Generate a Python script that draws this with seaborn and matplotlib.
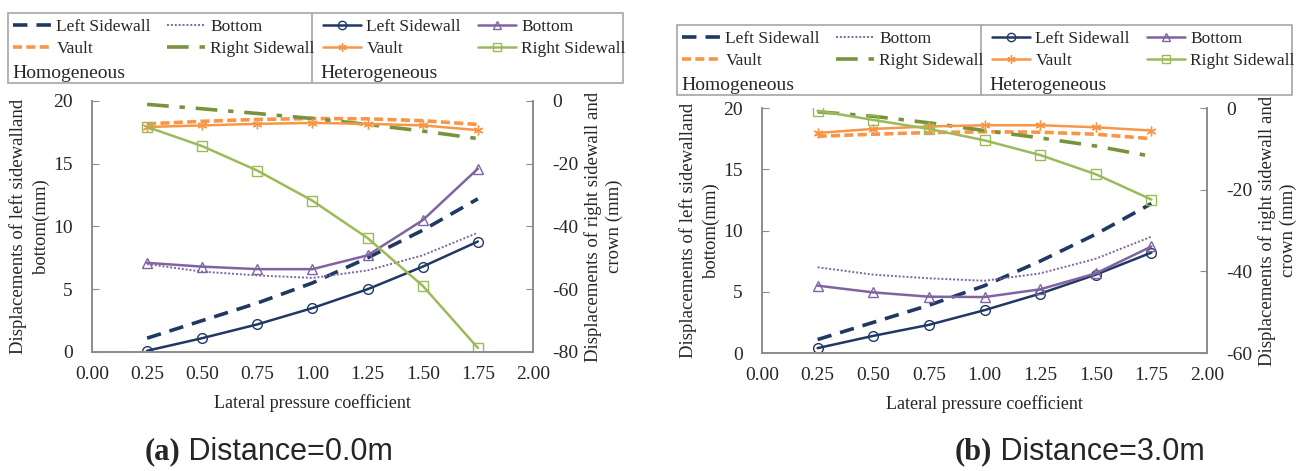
import numpy as np
import pandas as pd
import matplotlib
matplotlib.use("Agg")
import matplotlib.pyplot as plt
import seaborn as sns
from matplotlib.lines import Line2D
from matplotlib.patches import Rectangle

# lateral pressure coefficient (x values for every series)
coef = [0.25, 0.50, 0.75, 1.00, 1.25, 1.50, 1.75]

# ---- (a) Distance = 0.0 m ----
a_left_homo = [1.1, 2.5, 3.9, 5.5, 7.5, 9.7, 12.2]
a_bottom_homo = [7.0, 6.4, 6.1, 5.9, 6.5, 7.7, 9.5]
a_vault_homo = [-7.3, -6.5, -5.9, -5.6, -5.7, -6.3, -7.5]
a_right_homo = [-1.1, -2.5, -4.0, -5.6, -7.5, -9.6, -12.0]
a_left_het = [0.1, 1.1, 2.2, 3.5, 5.0, 6.8, 8.8]
a_bottom_het = [7.1, 6.8, 6.6, 6.6, 7.7, 10.5, 14.6]
a_vault_het = [-8.3, -7.8, -7.3, -7.0, -7.3, -7.8, -9.3]
a_right_het = [-8.3, -14.4, -22.2, -31.8, -43.7, -58.9, -78.7]

# ---- (b) Distance = 3.0 m ----
b_left_homo = [1.1, 2.5, 3.9, 5.5, 7.5, 9.7, 12.2]
b_bottom_homo = [7.0, 6.4, 6.1, 5.9, 6.5, 7.7, 9.5]
b_vault_homo = [-6.9, -6.4, -6.0, -5.8, -5.9, -6.4, -7.5]
b_right_homo = [-0.9, -2.0, -3.6, -5.5, -7.3, -9.3, -11.8]
b_left_het = [0.4, 1.4, 2.3, 3.5, 4.85, 6.4, 8.2]
b_bottom_het = [5.5, 4.95, 4.6, 4.57, 5.2, 6.5, 8.7]
b_vault_het = [-6.1, -5.1, -4.5, -4.2, -4.2, -4.7, -5.5]
b_right_het = [-0.65, -2.9, -5.1, -7.9, -11.5, -16.2, -22.4]

x_ticks = [0.00, 0.25, 0.50, 0.75, 1.00, 1.25, 1.50, 1.75, 2.00]

NAVY = "#1f3864"
PURPLE = "#8064a2"
ORANGE = "#f79646"
GREEN = "#9bbb59"
DKGREEN = "#77933c"
SPINE = "#8c8c8c"

sns.set_style("white")
plt.rcParams["font.family"] = ["Liberation Serif", "DejaVu Serif"]

# line styles for homogeneous (dashed) and heterogeneous (solid + marker)
homo_styles = {
    "Left Sidewall": dict(color=NAVY, lw=2.6, dashes=(4, 2.5)),
    "Bottom": dict(color=PURPLE, lw=1.4, dashes=(1, 1)),
    "Vault": dict(color=ORANGE, lw=2.6, dashes=(2.5, 1.2)),
    "Right Sidewall": dict(color=DKGREEN, lw=2.6, dashes=(6, 3, 1.5, 3)),
}
het_styles = {
    "Left Sidewall": dict(color=NAVY, marker="o"),
    "Bottom": dict(color=PURPLE, marker="^"),
    "Vault": dict(color=ORANGE, marker=(6, 2, 0)),
    "Right Sidewall": dict(color=GREEN, marker="s"),
}


def draw_series(ax, y, style, homo):
    if homo:
        sns.lineplot(x=coef, y=y, ax=ax, color=style["color"], lw=style["lw"],
                     legend=False)
        ax.lines[-1].set_dashes(style["dashes"])
    else:
        sns.lineplot(x=coef, y=y, ax=ax, color=style["color"], lw=1.8,
                     marker=style["marker"], markersize=7, markerfacecolor="none",
                     markeredgecolor=style["color"], markeredgewidth=1.0,
                     legend=False)


def draw_panel(rect, left_vals, right_vals, ymin2, yticks2):
    ax = fig.add_axes(rect)
    ax2 = ax.twinx()
    (lh, bh, lt, bt) = left_vals
    (vh, rh, vt, rt) = right_vals
    draw_series(ax, lh, homo_styles["Left Sidewall"], True)
    draw_series(ax, bh, homo_styles["Bottom"], True)
    draw_series(ax, lt, het_styles["Left Sidewall"], False)
    draw_series(ax, bt, het_styles["Bottom"], False)
    draw_series(ax2, vh, homo_styles["Vault"], True)
    draw_series(ax2, rh, homo_styles["Right Sidewall"], True)
    draw_series(ax2, vt, het_styles["Vault"], False)
    draw_series(ax2, rt, het_styles["Right Sidewall"], False)

    ax.set_xlim(0, 2)
    ax.set_ylim(0, 20)
    ax.set_xticks(x_ticks)
    ax.set_xticklabels([f"{t:.2f}" for t in x_ticks])
    ax.set_yticks([0, 5, 10, 15, 20])
    ax2.set_ylim(ymin2, 0)
    ax2.set_yticks(yticks2)
    ax2.set_yticklabels([str(t) for t in yticks2])  # plain hyphen minus
    for a in (ax, ax2):
        a.tick_params(labelsize=14, length=5, color=SPINE, direction="in", pad=14)
        for side in ("left", "right", "bottom"):
            a.spines[side].set_color(SPINE)
            a.spines[side].set_visible(True)
            a.spines[side].set_linewidth(1.2)
        a.spines["top"].set_visible(False)
    ax.tick_params(axis="x", bottom=False, pad=10)
    ax.tick_params(axis="y", left=True)
    ax2.tick_params(axis="y", right=True)
    ax.set_xlabel("Lateral pressure coefficient", fontsize=13, labelpad=8)
    ax.set_ylabel("Displacements of left sidewalland\nbottom(mm)", fontsize=13.5,
                  labelpad=2, linespacing=1.45)
    ax2.set_ylabel("Displacements of right sidewall and\ncrown (mm)", fontsize=13.5,
                   labelpad=4, linespacing=1.25)
    return ax


def draw_legend(x0, y0):
    W, H = fig.get_size_inches() * fig.dpi
    w, h = 615, 70
    fig.patches.append(Rectangle((x0 / W, 1 - (y0 + h) / H), w / W, h / H,
                                 transform=fig.transFigure, fill=False,
                                 edgecolor="#a6a6a6", lw=1.2))
    xm = x0 + 304
    fig.lines.append(Line2D([xm / W, xm / W], [1 - y0 / H, 1 - (y0 + h) / H],
                            transform=fig.transFigure, color="#a6a6a6", lw=1.2))
    columns = [
        (x0 + 5, ["Left Sidewall", "Vault"], True),
        (x0 + 159, ["Bottom", "Right Sidewall"], True),
        (x0 + 315, ["Left Sidewall", "Vault"], False),
        (x0 + 470, ["Bottom", "Right Sidewall"], False),
    ]
    for xx, names, homo in columns:
        if homo:
            handles = [Line2D([], [], color=homo_styles[n]["color"],
                              lw=homo_styles[n]["lw"], dashes=homo_styles[n]["dashes"])
                       for n in names]
        else:
            handles = [Line2D([], [], color=het_styles[n]["color"], lw=1.8,
                              marker=het_styles[n]["marker"], markersize=6,
                              markerfacecolor="none") for n in names]
        fig.legend(handles, names, frameon=False, fontsize=12.5,
                   loc="center left", bbox_to_anchor=(xx / W, 1 - (y0 + 25) / H),
                   handlelength=2.2, handletextpad=0.3, labelspacing=0.32,
                   borderaxespad=0, borderpad=0)
    fig.text((x0 + 4) / W, 1 - (y0 + 60) / H, "Homogeneous", fontsize=14,
             va="center", ha="left")
    fig.text((xm + 8) / W, 1 - (y0 + 60) / H, "Heterogeneous", fontsize=14,
             va="center", ha="left")


fig = plt.figure(figsize=(12.99, 4.71), dpi=100)

draw_panel([0.0708, 0.2527, 0.3395, 0.533],
           (a_left_homo, a_bottom_homo, a_left_het, a_bottom_het),
           (a_vault_homo, a_right_homo, a_vault_het, a_right_het),
           -80, [-80, -60, -40, -20, 0])
draw_panel([0.5866, 0.2505, 0.3426, 0.520],
           (b_left_homo, b_bottom_homo, b_left_het, b_bottom_het),
           (b_vault_homo, b_right_homo, b_vault_het, b_right_het),
           -60, [-60, -40, -20, 0])

draw_legend(8, 13)
draw_legend(677, 25)

# panel captions
for xc, tag, rest in ((180, "(a)", " Distance=0.0m"), (992, "(b)", " Distance=3.0m")):
    fig.text(xc / 1299, 1 - 452 / 471, tag, fontsize=22, fontweight="bold",
             ha="right", va="center")
    fig.text(xc / 1299, 1 - 452 / 471, rest, fontsize=22, ha="left",
             va="center", family=["Liberation Sans", "DejaVu Sans"])

fig.savefig("out.png", dpi=100)
